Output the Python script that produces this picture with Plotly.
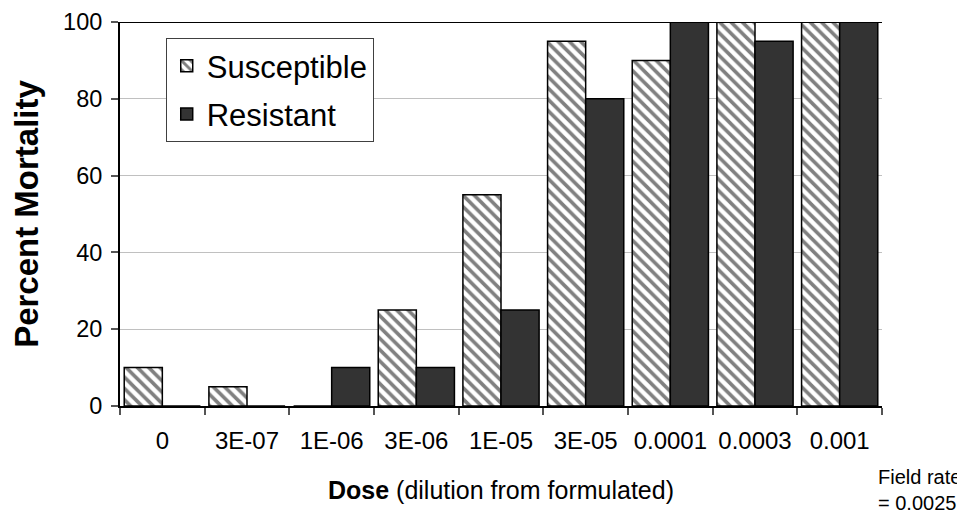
import plotly.graph_objects as go

doses = ["0", "3E-07", "1E-06", "3E-06", "1E-05", "3E-05", "0.0001", "0.0003", "0.001"]
susceptible = [10, 5, 0, 25, 55, 95, 90, 100, 100]
resistant = [0, 0, 10, 10, 25, 80, 100, 95, 100]
y_ticks = [0, 20, 40, 60, 80, 100]

FONT = "Liberation Sans, Arial, sans-serif"

fig = go.Figure()
fig.add_trace(go.Bar(
    x=doses, y=susceptible, name="Susceptible", legendgroup="s",
    marker=dict(color="white", line=dict(color="black", width=1.5),
                pattern=dict(shape="\\", fgcolor="#808080", bgcolor="white",
                             size=8, solidity=0.45, fillmode="replace")),
))
fig.add_trace(go.Bar(
    x=doses, y=resistant, name="Resistant", legendgroup="r",
    marker=dict(color="#333333", line=dict(color="black", width=1.5)),
))

# page body has an 8px margin, so the figure is shifted by (8, 8)
fig.update_layout(
    width=957, height=508,
    margin=dict(l=112, r=83, t=14, b=110, autoexpand=False),
    paper_bgcolor="white", plot_bgcolor="white",
    barmode="group", bargap=0.1, bargroupgap=0,
    font=dict(family=FONT, color="black", size=24),
    showlegend=True,
    legend=dict(x=0.06, y=0.958, xanchor="left", yanchor="top",
                bgcolor="white", bordercolor="#404040", borderwidth=1,
                tracegroupgap=5,
                font=dict(size=31, family=FONT, color="black")),
    xaxis=dict(
        type="category", showline=True, linecolor="black", linewidth=2,
        ticks="outside", tickson="boundaries", ticklen=7, tickcolor="#555555",
        tickwidth=1.5, showgrid=False, tickfont=dict(size=24), ticklabelstandoff=12,
        automargin=False,
    ),
    yaxis=dict(
        range=[0, 100], tickvals=y_ticks, showline=True, linecolor="black", linewidth=2,
        ticks="outside", ticklen=7, tickcolor="#555555", tickwidth=1.5,
        showgrid=True, gridcolor="#c0c0c0", gridwidth=1, zeroline=False,
        tickfont=dict(size=23.5), ticklabelstandoff=4, ticklabeloverflow="allow",
        automargin=False,
        title=dict(text="<b>Percent Mortality</b>", font=dict(size=33), standoff=16),
    ),
    shapes=[dict(type="line", xref="paper", yref="y", x0=0, x1=1, y0=100, y1=100,
                 line=dict(color="black", width=2))],
    annotations=[
        dict(text="<b>Dose</b> (dilution from formulated)", xref="paper", yref="paper",
             x=0.5, y=-0.218, xanchor="center", yanchor="middle", showarrow=False,
             font=dict(size=25)),
        dict(text="Field rate<br>= 0.0025", xref="paper", yref="paper",
             x=0.992, y=-0.218, xanchor="left", yanchor="middle", align="left",
             showarrow=False, font=dict(size=20)),
    ],
)

fig.write_html("out.html")
